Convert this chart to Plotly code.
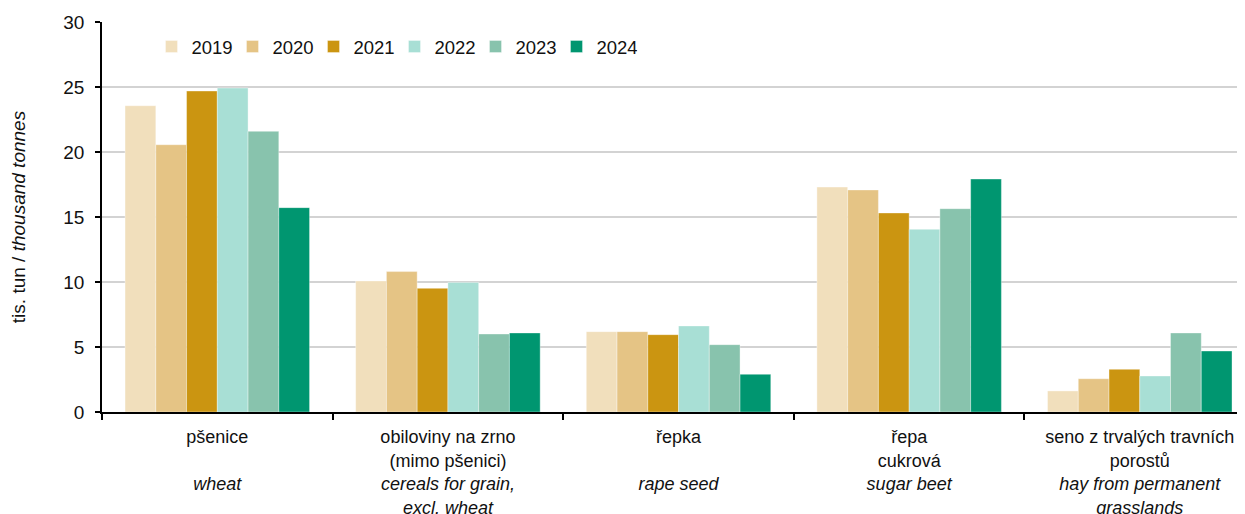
import plotly.graph_objects as go

categories = [
    "pšenice<br> <br><i>wheat</i><br> ",
    "obiloviny na zrno<br>(mimo pšenici)<br><i>cereals for grain,</i><br><i>excl. wheat</i>",
    "řepka<br> <br><i>rape seed</i><br> ",
    "řepa<br>cukrová<br><i>sugar beet</i><br> ",
    "seno z trvalých travních<br>porostů<br><i>hay from permanent</i><br><i>grasslands</i>",
]
years = ["2019", "2020", "2021", "2022", "2023", "2024"]
v2019 = [23.56, 10.08, 6.18, 17.30, 1.62]
v2020 = [20.56, 10.80, 6.18, 17.08, 2.56]
v2021 = [24.69, 9.51, 5.95, 15.31, 3.28]
v2022 = [24.92, 9.97, 6.62, 14.05, 2.77]
v2023 = [21.59, 6.00, 5.18, 15.64, 6.08]
v2024 = [15.72, 6.08, 2.90, 17.92, 4.69]
colors = ["#F1DFBC", "#E5C485", "#CB9511", "#A8DFD5", "#88C3AD", "#009670"]

series = [v2019, v2020, v2021, v2022, v2023, v2024]
FONT = "Liberation Sans, Arial, sans-serif"

fig = go.Figure()
for y, vals, c in zip(years, series, colors):
    fig.add_trace(go.Bar(name=y, x=categories, y=vals, marker_color=c,
                         marker_line_width=0.6, marker_line_color="rgba(255,255,255,0.6)"))

fig.update_layout(
    width=1245, height=514,
    margin=dict(l=94, r=0, t=14, b=110),
    barmode="group", bargap=0.2, bargroupgap=0,
    plot_bgcolor="white", paper_bgcolor="white",
    font=dict(family=FONT, size=18, color="#111111"),
    legend=dict(orientation="h", x=0.043, xanchor="left", y=0.936, yanchor="middle",
                font=dict(size=18.5), bgcolor="rgba(0,0,0,0)", entrywidth=36,
                itemwidth=30, traceorder="normal"),
    showlegend=True,
)
fig.update_xaxes(
    type="category", range=[-0.5, 4.491], automargin=False,
    showline=True, linecolor="black", linewidth=1.5,
    ticks="outside", ticklen=6, tickwidth=1.5, tickcolor="black",
    tickson="boundaries", showgrid=False,
    tickfont=dict(size=18), ticklabelstandoff=8,
)
fig.update_yaxes(
    range=[0, 30], dtick=5, automargin=False,
    showline=True, linecolor="black", linewidth=1.5,
    ticks="outside", ticklen=5, tickwidth=1.5, tickcolor="black",
    showgrid=True, gridcolor="#D3D3D3", gridwidth=1.5,
    tickfont=dict(size=19), ticklabelstandoff=7,
    title=dict(text="tis. tun / <i>thousand tonnes</i>", font=dict(size=19), standoff=40),
    zeroline=False,
)
fig.write_html("out.html")
